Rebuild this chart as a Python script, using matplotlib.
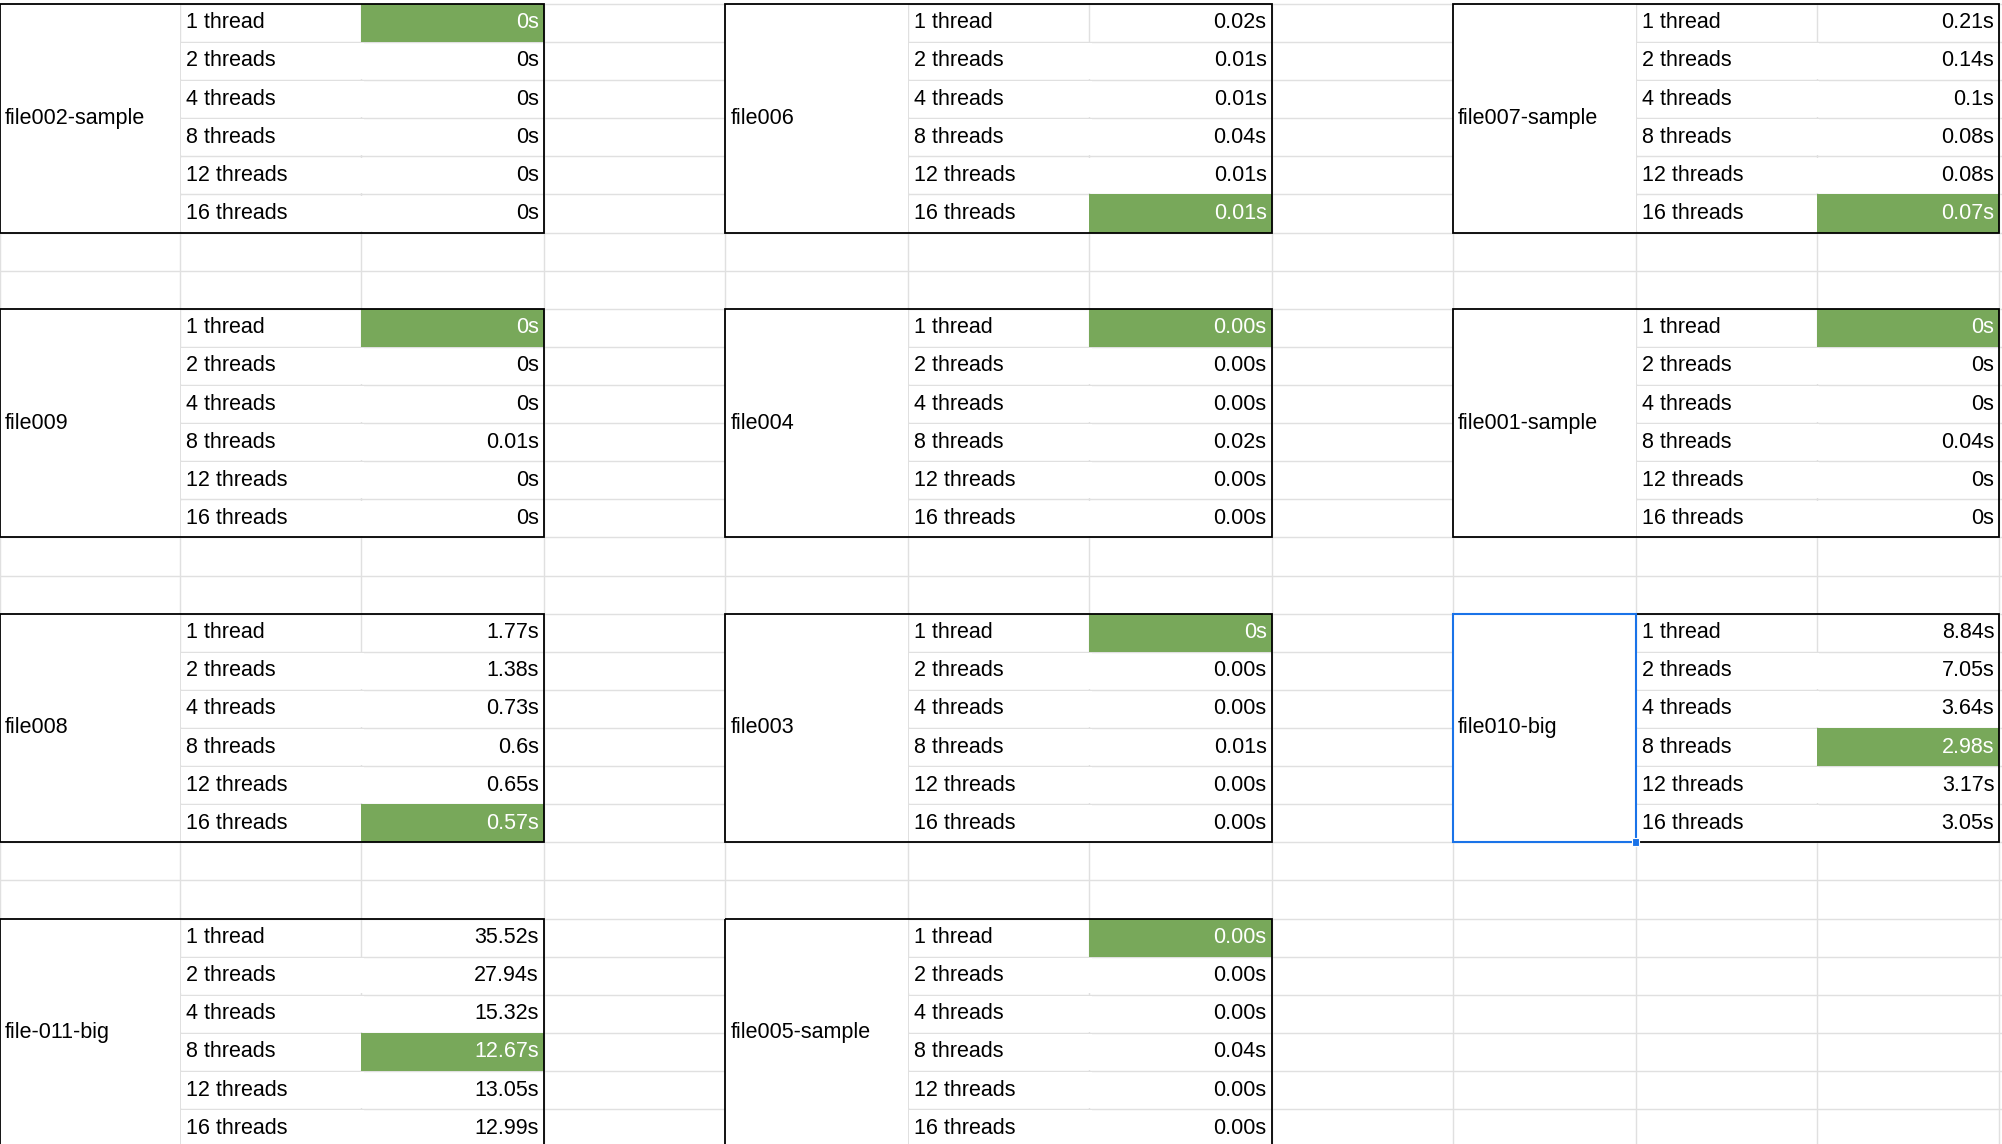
import matplotlib
matplotlib.use("Agg")
import matplotlib.pyplot as plt
from matplotlib.patches import Rectangle

threads = ["1 thread", "2 threads", "4 threads", "8 threads", "12 threads", "16 threads"]
names = ["file002-sample", "file006", "file007-sample",
         "file009", "file004", "file001-sample",
         "file008", "file003", "file010-big",
         "file-011-big", "file005-sample"]
values = [
    ["0s", "0s", "0s", "0s", "0s", "0s"],
    ["0.02s", "0.01s", "0.01s", "0.04s", "0.01s", "0.01s"],
    ["0.21s", "0.14s", "0.1s", "0.08s", "0.08s", "0.07s"],
    ["0s", "0s", "0s", "0.01s", "0s", "0s"],
    ["0.00s", "0.00s", "0.00s", "0.02s", "0.00s", "0.00s"],
    ["0s", "0s", "0s", "0.04s", "0s", "0s"],
    ["1.77s", "1.38s", "0.73s", "0.6s", "0.65s", "0.57s"],
    ["0s", "0.00s", "0.00s", "0.01s", "0.00s", "0.00s"],
    ["8.84s", "7.05s", "3.64s", "2.98s", "3.17s", "3.05s"],
    ["35.52s", "27.94s", "15.32s", "12.67s", "13.05s", "12.99s"],
    ["0.00s", "0.00s", "0.00s", "0.04s", "0.00s", "0.00s"],
]
best = [0, 5, 5, 0, 0, 0, 5, 0, 3, 3, 0]

W, H = 1568, 896
fig = plt.figure(figsize=(20.02, 11.44), dpi=100)
ax = fig.add_axes([0, 0, 1, 1])
ax.set_xlim(0, W); ax.set_ylim(H, 0); ax.axis("off")

colx = [0, 141, 283, 426, 568, 711, 853, 996, 1138, 1281, 1423, 1566]
top, rh = 3, 29.85
grid = "#e0e0e0"
green = "#78a85a"
font = "Liberation Sans"
fs = 15.5

for x in colx:
    ax.plot([x, x], [top, H], color=grid, lw=1)
for r in range(31):
    y = top + r * rh
    ax.plot([0, W], [y, y], color=grid, lw=1)

for i, name in enumerate(names):
    br, bc = divmod(i, 3)
    x0 = colx[bc * 4]
    y0 = top + br * 8 * rh
    xt, xv, xe = colx[bc * 4 + 1], colx[bc * 4 + 2], colx[bc * 4 + 3]
    ax.add_patch(Rectangle((x0, y0), xt - x0, 6 * rh, facecolor="white", edgecolor="none", zorder=2))
    for r in range(6):
        y = y0 + r * rh
        if r > 0:
            ax.add_patch(Rectangle((xt + 1, y + 1), xv - xt + 1, rh - 2, facecolor="white", edgecolor="none", zorder=2))
        if r == best[i]:
            ax.add_patch(Rectangle((xv, y), xe - xv, rh, facecolor=green, edgecolor="none", zorder=3))
        ax.text(xt + 5, y + rh / 2, threads[r], fontsize=fs, family=font, va="center", ha="left", zorder=4)
        ax.text(xe - 4, y + rh / 2, values[i][r], fontsize=fs, family=font, va="center", ha="right",
                color="white" if r == best[i] else "black", zorder=4)
    ax.text(x0 + 4, y0 + 3 * rh, name, fontsize=fs, family=font, va="center", ha="left", zorder=4)
    ax.add_patch(Rectangle((x0, y0), xe - x0, 6 * rh, facecolor="none", edgecolor="black", lw=1.3, zorder=5))
    if name == "file010-big":
        ax.add_patch(Rectangle((x0, y0), xt - x0, 6 * rh, facecolor="none", edgecolor="#1a73e8", lw=1.5, zorder=6))
        ax.add_patch(Rectangle((xt - 3, y0 + 6 * rh - 3), 6, 6, facecolor="#1a73e8", edgecolor="white", lw=0.8, zorder=7))

fig.savefig("out.png", dpi=100)
